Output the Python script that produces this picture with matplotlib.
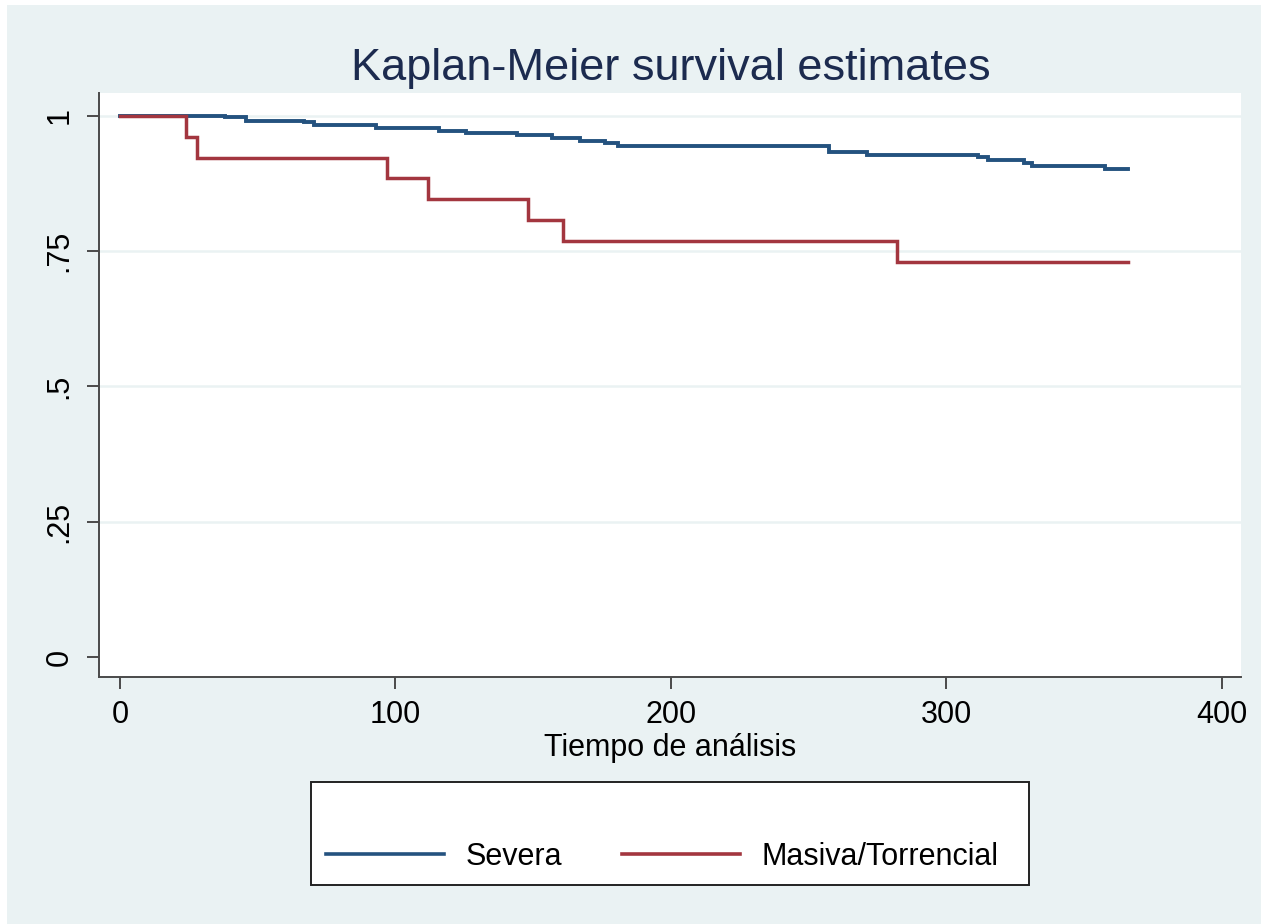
import matplotlib
matplotlib.use("Agg")
import matplotlib.pyplot as plt
from matplotlib.patches import Rectangle

plt.rcParams['font.family'] = ['Liberation Sans', 'DejaVu Sans']

# ---- data ----
severa_t = [0, 38, 45.7, 67, 70.6, 93, 116, 125.8, 144, 157, 167, 176, 181,
            257.3, 271.4, 311.4, 315, 328.4, 331, 357.5, 366]
severa_s = [1.0, 0.9976, 0.991, 0.988, 0.983, 0.977, 0.973, 0.969, 0.965, 0.959,
            0.954, 0.9495, 0.945, 0.934, 0.928, 0.925, 0.919, 0.9125, 0.9075,
            0.902, 0.902]
masiva_t = [0, 24, 28, 97, 112, 148, 161, 282, 366]
masiva_s = [1.0, 0.962, 0.923, 0.885, 0.846, 0.808, 0.769, 0.731, 0.731]

x_ticks = [0, 100, 200, 300, 400]
x_ticklabels = ["0", "100", "200", "300", "400"]
y_ticks = [0, 0.25, 0.5, 0.75, 1.0]
y_ticklabels = ["0", ".25", ".5", ".75", "1"]
series_labels = ["Severa", "Masiva/Torrencial"]

title = "Kaplan-Meier survival estimates"
xlabel = "Tiempo de análisis"

W, H = 1261, 924
BG = '#EAF2F3'
BLUE = '#24527F'
RED = '#A3363F'

fig = plt.figure(figsize=(W / 100, H / 100), dpi=100, facecolor='white')
fig.patches.append(Rectangle((7 / W, 0), 1 - 7 / W, 1 - 5 / H,
                             transform=fig.transFigure, facecolor=BG,
                             edgecolor='none', zorder=-10))

ax = fig.add_axes([99 / W, 1 - 677 / H, (1241 - 99) / W, (677 - 93) / H])
ax.set_facecolor('white')

for y in y_ticks[1:]:
    ax.axhline(y, color=BG, lw=1.8, zorder=1)

l1, = ax.step(severa_t, severa_s, where='post', color=BLUE, lw=2.8,
              label=series_labels[0], zorder=3, solid_joinstyle='miter')
l2, = ax.step(masiva_t, masiva_s, where='post', color=RED, lw=2.5,
              label=series_labels[1], zorder=4, solid_joinstyle='miter')

ax.set_xlim(-7.6, 407.0)
ax.set_ylim(-0.037, 1.0425)

ax.set_xticks(x_ticks)
ax.set_xticklabels(x_ticklabels)
ax.set_yticks(y_ticks)
ax.set_yticklabels(y_ticklabels, rotation=90, va='center')

for s in ['top', 'right']:
    ax.spines[s].set_visible(False)
for s in ['left', 'bottom']:
    ax.spines[s].set_color('#4A4A4A')
    ax.spines[s].set_linewidth(1.4)

ax.tick_params(axis='both', direction='out', length=8.5, width=1.4,
               color='#4A4A4A', labelsize=22, labelcolor='black')
ax.tick_params(axis='y', pad=9)
ax.tick_params(axis='x', pad=8)

ax.set_xlabel(xlabel, fontsize=22, labelpad=2, color='black')

fig.text(671 / W, 1 - 80 / H, title, ha='center', va='baseline',
         fontsize=32.5, color='#1C2B4F')

# legend box
fig.patches.append(Rectangle((311 / W, 1 - 885 / H), (1029 - 311) / W,
                             (885 - 782) / H, transform=fig.transFigure,
                             facecolor='white', edgecolor='#222222', lw=1.4,
                             zorder=5))
leg = fig.legend(handles=[l1, l2], labels=series_labels, ncol=2,
                 loc='center left', bbox_to_anchor=(326 / W, 1 - 857 / H),
                 frameon=False, fontsize=22, handlelength=3.86,
                 handletextpad=0.7, columnspacing=1.96, borderpad=0,
                 borderaxespad=0)
leg.set_zorder(6)
for h in leg.get_lines():
    h.set_linewidth(2.6)

fig.savefig('out.png', dpi=100, facecolor=fig.get_facecolor())
